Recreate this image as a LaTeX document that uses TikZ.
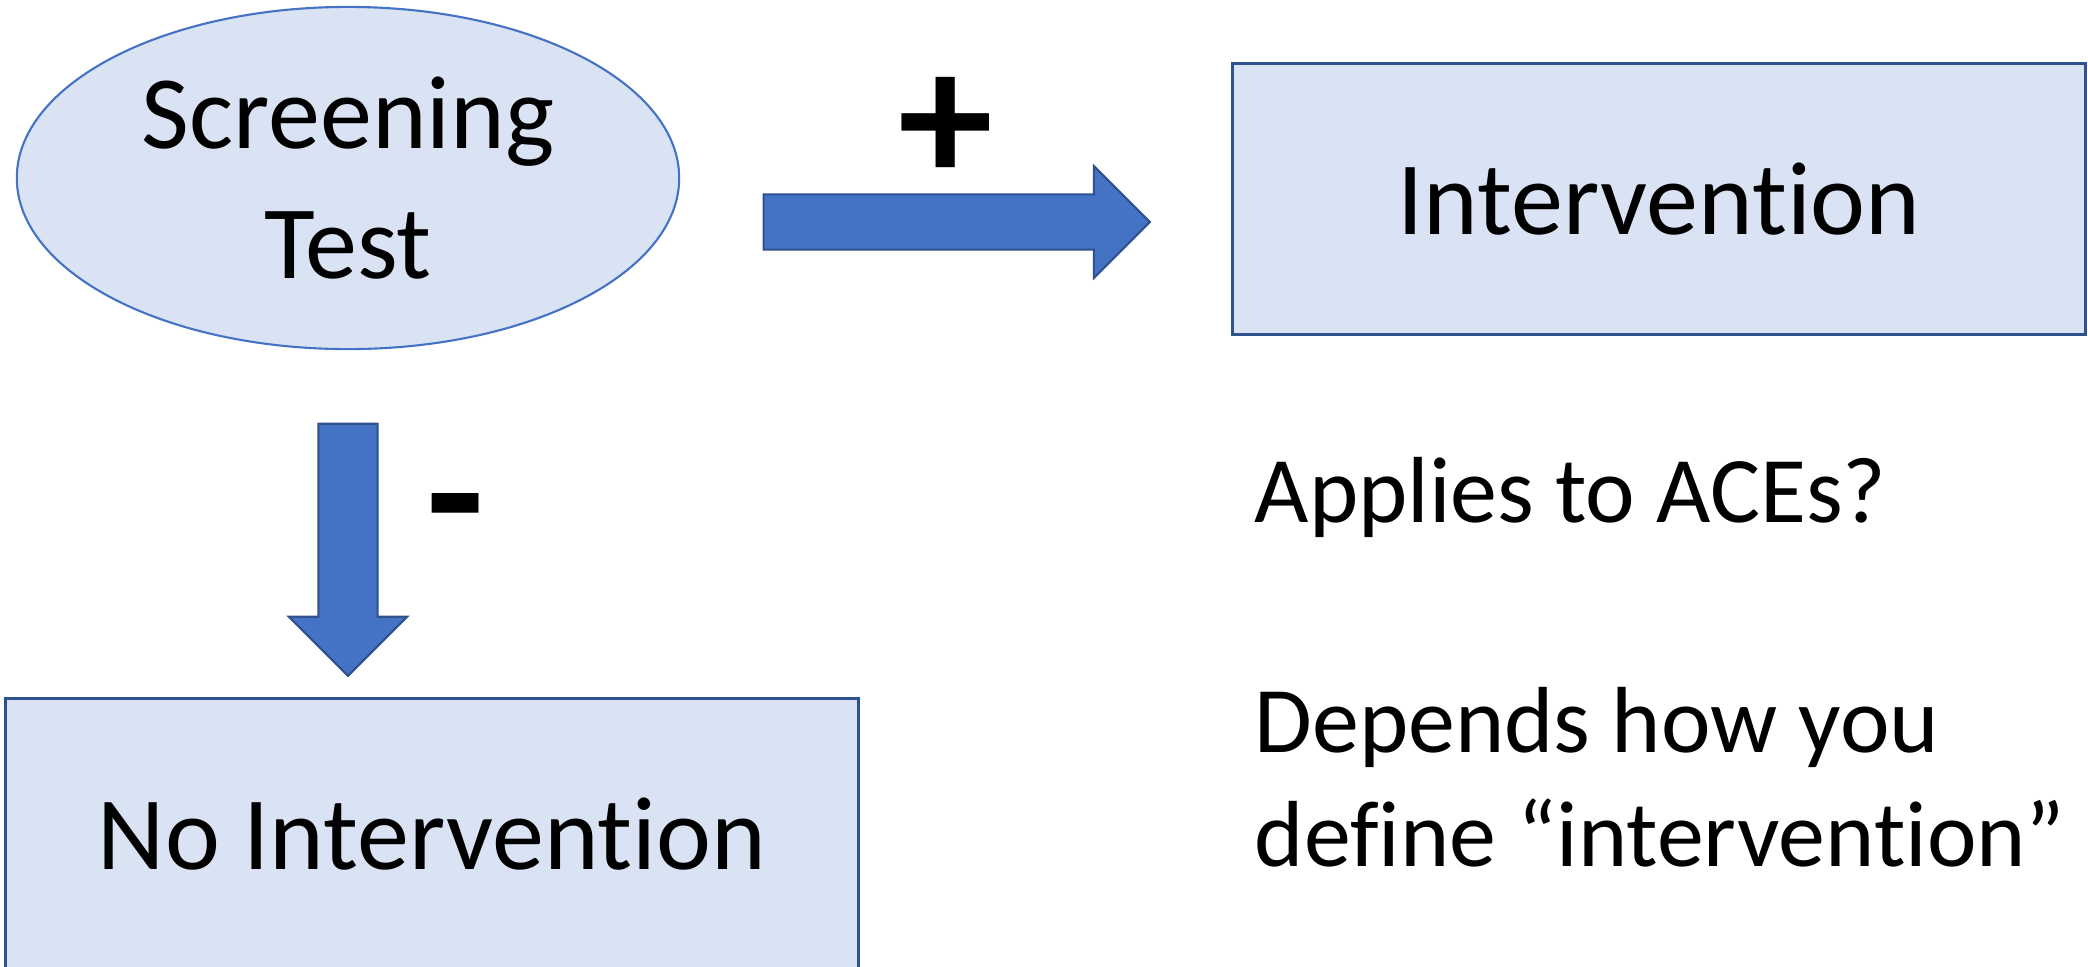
\documentclass[tikz,border=0pt]{standalone}
\usepackage{fontspec}
\setmainfont[Ligatures={NoCommon,NoContextual,NoRequired},Contextuals={NoAlternate}]{Carlito}
\usetikzlibrary{shapes.geometric,shapes.arrows}
\definecolor{boxfill}{HTML}{DAE3F3}
\definecolor{boxline}{HTML}{2F528F}
\definecolor{arrfill}{HTML}{4472C4}
% keep t and i apart (no ligature)
\newcommand{\tandi}{t\kern0pt i}
\tikzset{
  myoval/.style={ellipse, draw=arrfill, line width=0.6pt, fill=boxfill,
    minimum width=6.62cm, minimum height=3.42cm, inner sep=0pt, align=center,
    font=\fontsize{29.6pt}{36.9pt}\selectfont},
  mybox/.style={rectangle, draw=boxline, line width=0.85pt, fill=boxfill,
    minimum width=8.53cm, minimum height=2.70cm,
    font=\fontsize{29.6pt}{36.9pt}\selectfont},
  myarrow/.style={single arrow, draw=boxline, line width=0.6pt, fill=arrfill,
    inner sep=0.265cm, single arrow head extend=0.285cm},
  mysign/.style={font=\fontsize{54pt}{60pt}\selectfont\bfseries, inner sep=0pt},
}
\begin{document}
\begin{tikzpicture}[x=0.01cm,y=-0.01cm]
\clip (0,0) rectangle (2088,966);
\node[myoval] (screen) at (348,178) {Screening\\Test};
\node[mybox] (inter) at (1659,199) {Interven\tandi on};
\node[mybox] (nointer) at (432,834) {No Interven\tandi on};
% block arrows
\node[myarrow, minimum height=3.86cm] (plusarr) at (943,222) {};
\node[myarrow, minimum height=2.52cm, rotate=-90,
  inner sep=0.285cm, single arrow head extend=0.295cm] (minusarr) at (348,535) {};
\node[mysign] (plus) at (946,130) {+};
\node[mysign] (minus) at (456,525) {-};
\node[anchor=north west, align=left, inner sep=0pt,
  font=\fontsize{26.7pt}{32.6pt}\selectfont] (note) at (1254,457)
  {Applies to ACEs?\\[32.6pt]Depends how you\\define “interven\tandi on”};
\end{tikzpicture}
\end{document}
